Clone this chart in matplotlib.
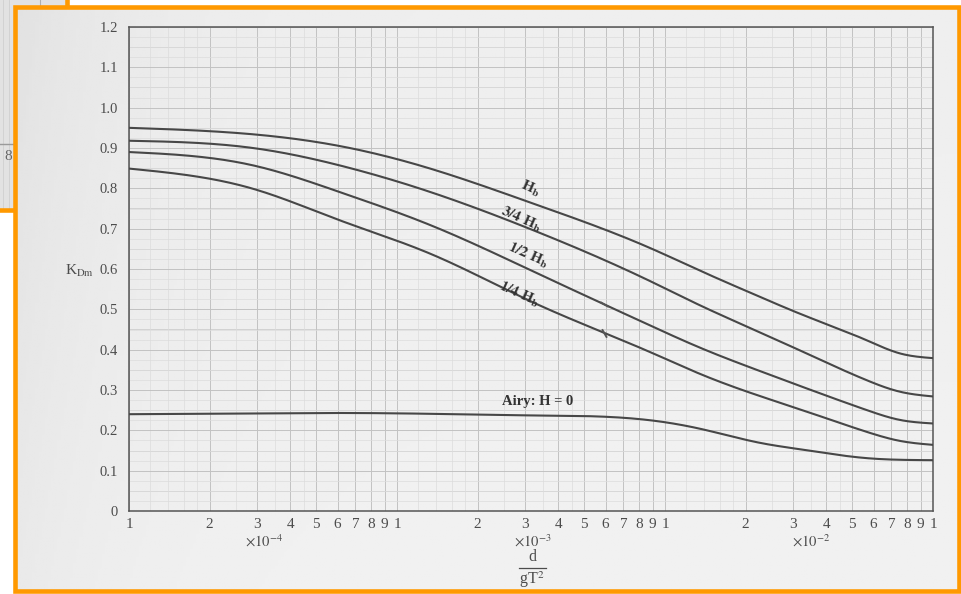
import numpy as np
import matplotlib
matplotlib.use('Agg')
import matplotlib.pyplot as plt
from matplotlib.patches import Rectangle
from matplotlib.lines import Line2D
from matplotlib.ticker import FixedLocator, FixedFormatter, NullFormatter

plt.rcParams['font.family'] = ['Liberation Serif', 'DejaVu Serif']
plt.rcParams['mathtext.fontset'] = 'stix'

# ---------------- data ----------------
d_gT2 = [1e-4, 2.9e-4, 6.1e-4, 1.33e-3, 3.2e-3, 8.8e-3, 1.35e-2, 2.26e-2, 3.19e-2, 5.67e-2, 7.5e-2, 1e-1]
K_Hb   = [0.950, 0.934, 0.905, 0.849, 0.763, 0.652, 0.596, 0.531, 0.489, 0.423, 0.391, 0.379]
K_34Hb = [0.918, 0.900, 0.857, 0.791, 0.697, 0.570, 0.510, 0.443, 0.398, 0.324, 0.296, 0.284]
K_12Hb = [0.890, 0.857, 0.791, 0.709, 0.595, 0.460, 0.405, 0.347, 0.310, 0.250, 0.226, 0.217]
K_14Hb = [0.849, 0.799, 0.721, 0.638, 0.518, 0.394, 0.340, 0.285, 0.252, 0.196, 0.174, 0.164]
K_Airy = [0.240, 0.242, 0.243, 0.241, 0.237, 0.225, 0.204, 0.169, 0.153, 0.131, 0.127, 0.126]
mark_x = [5.9e-3]

y_ticks = [0.0, 0.1, 0.2, 0.3, 0.4, 0.5, 0.6, 0.7, 0.8, 0.9, 1.0, 1.1, 1.2]
y_tick_labels = ['0', '0.1', '0.2', '0.3', '0.4', '0.5', '0.6', '0.7', '0.8', '0.9', '1.0', '1.1', '1.2']
decades = [1e-4, 1e-3, 1e-2]
mantissas = [1, 2, 3, 4, 5, 6, 7, 8, 9]
x_tick_labels = [str(m) for _ in decades for m in mantissas] + ['1']
multiplier_labels = [r'$\times10^{-4}$', r'$\times10^{-3}$', r'$\times10^{-2}$']
curve_labels = [r'$\mathbf{H_b}$', r'$\mathbf{3/4\ H_b}$', r'$\mathbf{1/2\ H_b}$', r'$\mathbf{1/4\ H_b}$']
airy_label = 'Airy: H = 0'


def natural_spline(x, y, xn):
    """natural cubic spline through the read points"""
    x = np.asarray(x, float); y = np.asarray(y, float)
    n = len(x); h = np.diff(x)
    A = np.zeros((n, n)); r = np.zeros(n)
    A[0, 0] = A[-1, -1] = 1.0
    for i in range(1, n - 1):
        A[i, i - 1] = h[i - 1]; A[i, i] = 2 * (h[i - 1] + h[i]); A[i, i + 1] = h[i]
        r[i] = 6 * ((y[i + 1] - y[i]) / h[i] - (y[i] - y[i - 1]) / h[i - 1])
    M = np.linalg.solve(A, r)
    idx = np.clip(np.searchsorted(x, xn) - 1, 0, n - 2)
    x0, x1 = x[idx], x[idx + 1]; hh = h[idx]
    a = (x1 - xn) / hh; b = (xn - x0) / hh
    return (a * y[idx] + b * y[idx + 1]
            + ((a**3 - a) * M[idx] + (b**3 - b) * M[idx + 1]) * hh**2 / 6)


W, H = 961, 594
fig = plt.figure(figsize=(W / 100, H / 100), dpi=100, facecolor='white')
def fx(px): return px / W
def fy(py): return 1 - py / H

ORANGE = '#ff9900'
TXT = '#4c4c4c'

# fragment of another scanned page behind (top-left)
fig.add_artist(Rectangle((0, fy(210)), fx(67), 210 / H, transform=fig.transFigure,
                         facecolor='#e2e2e2', edgecolor='none', zorder=-5))
for gxp in [3, 9]:
    fig.add_artist(Line2D([fx(gxp), fx(gxp)], [fy(0), fy(210)], transform=fig.transFigure,
                          color='#cfcfcf', lw=0.6, zorder=-4))
fig.add_artist(Line2D([0, fx(67)], [fy(144), fy(144)], transform=fig.transFigure,
                      color='#9a9a9a', lw=1.0, zorder=-4))
fig.add_artist(Line2D([fx(40), fx(40)], [fy(0), fy(7)], transform=fig.transFigure,
                      color='#b0b0b0', lw=0.8, zorder=-4))
fig.text(fx(8), fy(156), '8', fontsize=11, color='#666', ha='center', va='center', zorder=-3)
fig.add_artist(Line2D([fx(66.7), fx(66.7)], [1, fy(6)], transform=fig.transFigure,
                      color=ORANGE, lw=3.3, zorder=-3))
fig.add_artist(Line2D([0, fx(15)], [fy(209.5), fy(209.5)], transform=fig.transFigure,
                      color=ORANGE, lw=3.3, zorder=-3))

# main scanned paper with a soft gradient
bg = fig.add_axes([fx(15), fy(591), fx(958.5) - fx(15), (591 - 6.7) / H], zorder=-2)
gx = np.linspace(0, 1, 300)
gy = np.linspace(0, 1, 200)
G = 0.945 - 0.05 * np.exp(-gx[None, :] / 0.12) * (0.6 + 0.4 * gy[:, None]) - 0.01 * gy[:, None]
bg.imshow(G, cmap='gray', vmin=0, vmax=1, aspect='auto', extent=[0, 1, 0, 1], origin='lower')
bg.set_axis_off()

# main chart axes
ax = fig.add_axes([fx(129), fy(511), fx(933) - fx(129), (511 - 27) / H], zorder=1)
ax.set_facecolor('none')
ax.set_xscale('log')
ax.set_xlim(1e-4, 1e-1)
ax.set_ylim(0, 1.2)

major_x = [m * d for d in decades for m in mantissas] + [1e-1]
minor_sub = [1.2, 1.4, 1.6, 1.8, 2.5, 3.5, 4.5]
minor_x = [s * d for d in decades for s in minor_sub]
ax.xaxis.set_major_locator(FixedLocator(major_x))
ax.xaxis.set_major_formatter(FixedFormatter(x_tick_labels))
ax.xaxis.set_minor_locator(FixedLocator(minor_x))
ax.xaxis.set_minor_formatter(NullFormatter())

ax.yaxis.set_major_locator(FixedLocator(y_ticks))
ax.yaxis.set_major_formatter(FixedFormatter(y_tick_labels))
ax.yaxis.set_minor_locator(FixedLocator(np.arange(0, 1.2001, 0.025)))
ax.yaxis.set_minor_formatter(NullFormatter())

ax.tick_params(which='both', length=0)
ax.tick_params(axis='x', pad=5, labelsize=11, labelcolor=TXT)
ax.tick_params(axis='y', pad=8, labelsize=10.5, labelcolor=TXT)
ax.grid(which='major', color='#c2c2c2', lw=0.7)
ax.grid(which='minor', color='#dcdcdc', lw=0.5)
for yv in np.arange(0.05, 1.2, 0.1):
    ax.axhline(yv, color='#cdcdcd', lw=0.6, zorder=0.5)
for s in ax.spines.values():
    s.set_color('#555555'); s.set_linewidth(1.1)

xd = np.logspace(-4, -1, 400)
lx = np.log10(d_gT2)
series = [K_Hb, K_34Hb, K_12Hb, K_14Hb, K_Airy]
curves = []
for vals in series:
    yd = natural_spline(lx, vals, np.log10(xd))
    curves.append(yd)
    ax.plot(xd, yd, color='#474747', lw=1.5, zorder=3)

# small marks on the 1/2 and 1/4 Hb curves
for i, ang in [(2, 60), (3, 30)]:
    ym = np.interp(np.log10(mark_x), np.log10(xd), curves[i])
    ax.plot(mark_x, ym, marker=(2, 0, ang), ms=7, mew=1.4, color='#555555', zorder=4)

label_pos = [(3.13e-3, 0.800), (2.9e-3, 0.722), (3.08e-3, 0.633), (2.85e-3, 0.536)]
for (lxp, lyp), txt in zip(label_pos, curve_labels):
    ax.text(lxp, lyp, txt, rotation=-24, ha='center', va='center', fontsize=11,
            color='#333333', zorder=5)
ax.text(3.36e-3, 0.272, airy_label, ha='center', va='center', fontsize=10.5,
        fontweight='bold', color='#333333', zorder=5)

# multipliers and axis title
for xm, txt in zip([3.2e-4, 3.2e-3, 3.5e-2], multiplier_labels):
    ax.text(xm, -0.062, txt, transform=ax.get_xaxis_transform(), ha='center', va='center',
            fontsize=10.5, color=TXT, clip_on=False)
fig.text(fx(532), fy(557), 'd', ha='center', va='center', fontsize=11.5, color=TXT)
fig.add_artist(Line2D([fx(519), fx(546)], [fy(568), fy(568)], transform=fig.transFigure,
                      color=TXT, lw=0.9))
fig.text(fx(532), fy(580), r'gT$^2$', ha='center', va='center', fontsize=11.5, color=TXT)
fig.text(fx(80), fy(271), r'K$_{\mathrm{Dm}}$', ha='center', va='center', fontsize=11, color=TXT)

# orange frame
fig.add_artist(Rectangle((fx(15), fy(591)), fx(958.5) - fx(15), (591 - 6.7) / H,
                         transform=fig.transFigure, facecolor='none', edgecolor=ORANGE,
                         lw=3.3, zorder=10))

fig.savefig('out.png', dpi=100, facecolor='white')
